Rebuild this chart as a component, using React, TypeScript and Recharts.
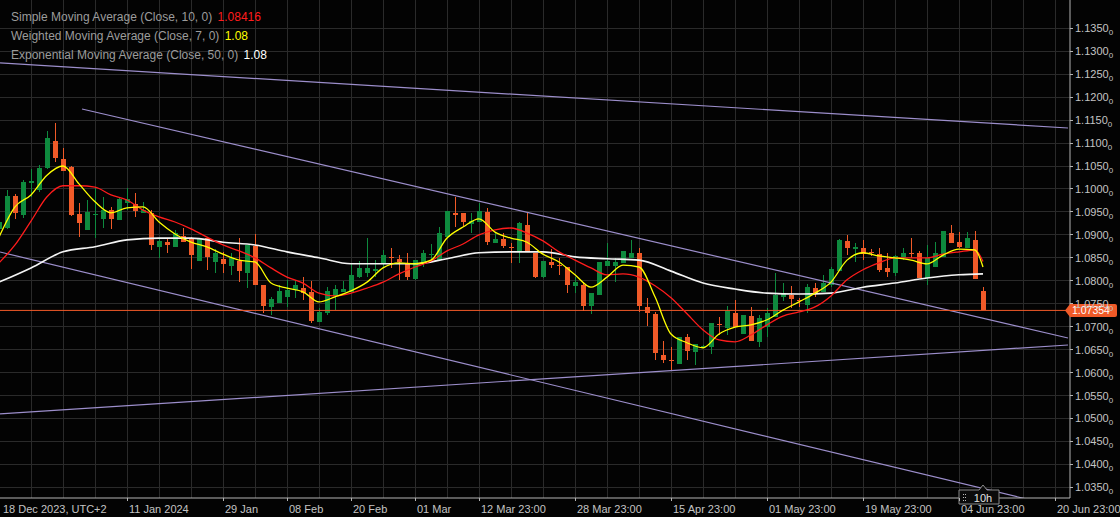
import React from "react"
import {
  ComposedChart,
  Bar,
  Line,
  XAxis,
  YAxis,
  CartesianGrid,
  ReferenceLine,
  ReferenceDot,
} from "recharts"

// colours of the terminal theme
const GREEN = "#0e8a3e"
const ORANGE = "#f05a28"
const GRID = "#2a2a2a"
const AXIS = "#b4b4b4"
const TEXT = "#c4c4c4"
const TREND = "#9c8ecb"
const FONT = '"Liberation Sans", Arial, sans-serif'

// daily candles, first bar (index -1) is cut by the left edge — [open, high, low, close]
const FIRST_BAR = -1
const ohlc: [number, number, number, number][] = [
  [1.0913, 1.0937, 1.0898, 1.0928],
  [1.0915, 1.0998, 1.0913, 1.0985],
  [1.0985, 1.0989, 1.0935, 1.0948],
  [1.0943, 1.102, 1.0937, 1.1015],
  [1.1013, 1.1044, 1.0983, 1.1017],
  [1.0998, 1.1052, 1.0993, 1.1046],
  [1.1046, 1.1126, 1.1044, 1.1111],
  [1.1105, 1.1144, 1.1059, 1.1068],
  [1.1065, 1.1089, 1.1039, 1.1039],
  [1.1048, 1.105, 1.0941, 1.0943],
  [1.0946, 1.097, 1.0895, 1.0926],
  [1.0911, 1.0976, 1.0911, 1.095],
  [1.0943, 1.1004, 1.0893, 1.0946],
  [1.0935, 1.0983, 1.0915, 1.0954],
  [1.0954, 1.0961, 1.0913, 1.0935],
  [1.0932, 1.0983, 1.0932, 1.0978],
  [1.097, 1.1002, 1.0954, 1.0978],
  [1.0967, 1.0991, 1.0939, 1.0952],
  [1.0948, 1.0972, 1.0948, 1.0954],
  [1.0948, 1.0954, 1.0867, 1.0878],
  [1.0874, 1.0893, 1.085, 1.0887],
  [1.0884, 1.0893, 1.0861, 1.0878],
  [1.0874, 1.0911, 1.0874, 1.0904],
  [1.0898, 1.0915, 1.0884, 1.0884],
  [1.0893, 1.0895, 1.0826, 1.0856],
  [1.0843, 1.0891, 1.0843, 1.0891],
  [1.0893, 1.0893, 1.0824, 1.0852],
  [1.0841, 1.0869, 1.0817, 1.0861],
  [1.0848, 1.0863, 1.0817, 1.0837],
  [1.0832, 1.0861, 1.0813, 1.085],
  [1.0843, 1.0893, 1.0797, 1.0821],
  [1.0817, 1.0878, 1.0784, 1.0878],
  [1.0876, 1.0902, 1.0791, 1.0791],
  [1.0791, 1.0791, 1.073, 1.0745],
  [1.0743, 1.0765, 1.0726, 1.076],
  [1.0752, 1.0791, 1.0752, 1.0778],
  [1.0765, 1.0802, 1.0743, 1.078],
  [1.078, 1.0802, 1.0763, 1.0791],
  [1.0784, 1.0808, 1.0758, 1.0773],
  [1.0776, 1.08, 1.0708, 1.0712],
  [1.071, 1.0741, 1.071, 1.0732],
  [1.073, 1.0786, 1.0726, 1.0778],
  [1.0767, 1.0791, 1.0736, 1.0782],
  [1.0776, 1.08, 1.0776, 1.0782],
  [1.0776, 1.0839, 1.0776, 1.0813],
  [1.0808, 1.0843, 1.0806, 1.0828],
  [1.0817, 1.0893, 1.0808, 1.0828],
  [1.0821, 1.0845, 1.0808, 1.0826],
  [1.0839, 1.0867, 1.083, 1.0856],
  [1.0852, 1.0871, 1.0828, 1.085],
  [1.0848, 1.0856, 1.0802, 1.0841],
  [1.0839, 1.0861, 1.0802, 1.0808],
  [1.0804, 1.0845, 1.0802, 1.0845],
  [1.0839, 1.0867, 1.083, 1.0861],
  [1.0856, 1.088, 1.0841, 1.0858],
  [1.0845, 1.0917, 1.0845, 1.0904],
  [1.0895, 1.0952, 1.0893, 1.0952],
  [1.0948, 1.0983, 1.0917, 1.0943],
  [1.0948, 1.0948, 1.0917, 1.0928],
  [1.0924, 1.0948, 1.0904, 1.093],
  [1.0928, 1.097, 1.0928, 1.0952],
  [1.095, 1.0959, 1.0878, 1.0884],
  [1.0882, 1.0904, 1.0882, 1.0891],
  [1.0891, 1.0904, 1.0871, 1.0876],
  [1.0874, 1.0882, 1.0839, 1.0871],
  [1.0863, 1.0928, 1.0839, 1.0926],
  [1.0922, 1.0948, 1.0863, 1.0863],
  [1.0861, 1.0861, 1.0806, 1.0808],
  [1.0808, 1.0843, 1.0806, 1.0843],
  [1.0841, 1.0869, 1.0828, 1.0834],
  [1.0834, 1.085, 1.0813, 1.0832],
  [1.083, 1.083, 1.0773, 1.0791],
  [1.0789, 1.0808, 1.0773, 1.0797],
  [1.0791, 1.0797, 1.0734, 1.0745],
  [1.0745, 1.0773, 1.0728, 1.0773],
  [1.0769, 1.0841, 1.0769, 1.0841],
  [1.0832, 1.0882, 1.0832, 1.0843],
  [1.0832, 1.085, 1.0797, 1.0841],
  [1.0839, 1.0865, 1.0839, 1.0865],
  [1.085, 1.0889, 1.085, 1.0861],
  [1.0861, 1.0871, 1.0732, 1.0745],
  [1.0743, 1.0763, 1.0702, 1.073],
  [1.0728, 1.0732, 1.0627, 1.0643],
  [1.0638, 1.0669, 1.0621, 1.0627],
  [1.0627, 1.0656, 1.0606, 1.0625],
  [1.0619, 1.0678, 1.0619, 1.0678],
  [1.0678, 1.0684, 1.0627, 1.0647],
  [1.0645, 1.0662, 1.0617, 1.0662],
  [1.0656, 1.066, 1.0654, 1.0658],
  [1.0656, 1.0708, 1.0641, 1.0708],
  [1.0706, 1.0721, 1.0682, 1.0704],
  [1.0697, 1.0745, 1.0682, 1.0734],
  [1.073, 1.0758, 1.0699, 1.0699],
  [1.0684, 1.0726, 1.0684, 1.0726],
  [1.0723, 1.0743, 1.0669, 1.0669],
  [1.0667, 1.0726, 1.0656, 1.0719],
  [1.0699, 1.0741, 1.0678, 1.073],
  [1.0721, 1.0817, 1.0721, 1.0769],
  [1.0765, 1.0795, 1.0756, 1.0773],
  [1.0769, 1.0789, 1.0741, 1.076],
  [1.0758, 1.0763, 1.0743, 1.0756],
  [1.0747, 1.0793, 1.073, 1.0786],
  [1.0784, 1.0795, 1.0765, 1.0773],
  [1.0776, 1.0813, 1.0776, 1.0795],
  [1.0791, 1.083, 1.0786, 1.0826],
  [1.0821, 1.0891, 1.0821, 1.0889],
  [1.0887, 1.09, 1.0856, 1.0871],
  [1.0869, 1.0882, 1.0841, 1.0874],
  [1.0871, 1.0889, 1.0845, 1.0858],
  [1.0863, 1.0869, 1.0854, 1.0861],
  [1.0858, 1.0871, 1.0819, 1.0824],
  [1.0828, 1.0861, 1.0808, 1.0819],
  [1.0817, 1.0856, 1.081, 1.0854],
  [1.085, 1.0871, 1.0845, 1.0861],
  [1.0861, 1.0893, 1.085, 1.0858],
  [1.0861, 1.0865, 1.0806, 1.0806],
  [1.0806, 1.0878, 1.0791, 1.085],
  [1.083, 1.0884, 1.083, 1.0861],
  [1.0852, 1.0908, 1.0852, 1.0908],
  [1.0904, 1.0922, 1.0882, 1.0882],
  [1.0884, 1.0906, 1.0871, 1.0874],
  [1.0871, 1.0906, 1.0871, 1.0893],
  [1.0889, 1.0908, 1.0804, 1.0804],
  [1.0778, 1.0786, 1.07354, 1.07354],
]

// moving averages — [bar index, value]
const smaPoints: [number, number][] = [
  [-1, 1.0839], [1, 1.0878], [3, 1.093], [5, 1.0983], [7, 1.1007], [9, 1.1007],
  [11, 1.1004], [13, 1.0987], [15, 1.0976], [17, 1.0954], [19, 1.0939], [21, 1.0928],
  [23, 1.0913], [25, 1.0895], [27, 1.0878], [29, 1.0865], [31, 1.085], [33, 1.0828],
  [35, 1.0808], [37, 1.0795], [39, 1.0773], [41, 1.0767], [43, 1.0773], [45, 1.0784],
  [47, 1.0797], [49, 1.0815], [51, 1.083], [53, 1.0843], [55, 1.0865], [57, 1.088],
  [59, 1.09], [61, 1.0911], [63, 1.0915], [65, 1.0904], [67, 1.0887], [69, 1.0863],
  [71, 1.0845], [73, 1.0828], [75, 1.0813], [77, 1.0815], [79, 1.0808], [81, 1.0789],
  [83, 1.0763], [85, 1.0728], [87, 1.0693], [89, 1.0671], [91, 1.0667], [93, 1.0682],
  [95, 1.0704], [97, 1.0723], [99, 1.0732], [101, 1.0743], [103, 1.0767], [105, 1.0802],
  [107, 1.0824], [109, 1.0839], [111, 1.085], [113, 1.085], [115, 1.085], [117, 1.0858],
  [119, 1.0863], [121, 1.0867], [122, 1.0842],
]

const wmaPoints: [number, number][] = [
  [-1, 1.0895], [1, 1.0961], [3, 1.0987], [5, 1.103], [7, 1.105], [9, 1.1011],
  [11, 1.0972], [13, 1.0948], [15, 1.0959], [17, 1.0961], [19, 1.0928], [21, 1.0902],
  [23, 1.0884], [25, 1.0874], [27, 1.0858], [29, 1.0845], [31, 1.0841], [33, 1.0795],
  [35, 1.0784], [37, 1.0776], [39, 1.0754], [41, 1.0765], [43, 1.0778], [45, 1.0797],
  [47, 1.0828], [49, 1.0839], [51, 1.0837], [53, 1.0845], [55, 1.0893], [57, 1.0917],
  [59, 1.0935], [61, 1.0906], [63, 1.0893], [65, 1.0884], [67, 1.0858], [69, 1.0841],
  [71, 1.0813], [73, 1.0786], [75, 1.0808], [77, 1.0834], [79, 1.083], [81, 1.0765],
  [83, 1.0684], [85, 1.0665], [87, 1.0654], [89, 1.0684], [91, 1.0699], [93, 1.0704],
  [95, 1.0715], [97, 1.0736], [99, 1.0754], [101, 1.0773], [103, 1.0797], [105, 1.0845],
  [107, 1.0861], [109, 1.0854], [111, 1.085], [113, 1.0845], [115, 1.0837], [117, 1.0856],
  [119, 1.0869], [121, 1.0867], [122, 1.083],
]

const emaPoints: [number, number][] = [
  [-1, 1.0797], [3, 1.0828], [7, 1.0863], [11, 1.0874], [15, 1.0889], [19, 1.0893],
  [23, 1.0893], [27, 1.0884], [31, 1.0878], [35, 1.0863], [39, 1.085], [43, 1.0837],
  [47, 1.0837], [51, 1.0837], [55, 1.0848], [59, 1.0861], [63, 1.0863], [67, 1.0863],
  [71, 1.0852], [75, 1.0848], [79, 1.0845], [83, 1.0821], [87, 1.0795], [91, 1.0782],
  [95, 1.0773], [99, 1.0771], [103, 1.0773], [107, 1.0786], [111, 1.0795], [115, 1.0806],
  [119, 1.0813], [122, 1.0815],
]

const legendItems = [
  { label: "Simple Moving Average (Close, 10, 0)", value: "1.08416", color: "#ff1c1c" },
  { label: "Weighted Moving Average (Close, 7, 0)", value: "1.08", color: "#ffff00" },
  { label: "Exponential Moving Average (Close, 50, 0)", value: "1.08", color: "#ffffff" },
]

const lastPrice = 1.07354
const timerText = "10h"

// trend lines drawn on the chart — [[bar, price], [bar, price]]
const trendLines: [number, number][][] = [
  [[-0.875, 1.12745], [132.625, 1.11328]],
  [[9.375, 1.11742], [132.625, 1.06753]],
  [[-0.875, 1.08627], [132.625, 1.03027]],
  [[-0.875, 1.05098], [132.625, 1.06601]],
]

const yDomain: [number, number] = [1.03267, 1.14117]
const xDomain: [number, number] = [-0.875, 132.875]
const yTicks = [
  1.035, 1.04, 1.045, 1.05, 1.055, 1.06, 1.065, 1.07, 1.075, 1.08, 1.085,
  1.09, 1.095, 1.1, 1.105, 1.11, 1.115, 1.12, 1.125, 1.13, 1.135,
]
const xTickBars = [-0.875, 15, 27, 35, 43, 51, 59, 71, 83, 95, 107, 119, 131]
const xTickLabels = [
  "18 Dec 2023, UTC+2", "11 Jan 2024", "29 Jan", "08 Feb", "20 Feb", "01 Mar",
  "12 Mar 23:00", "28 Mar 23:00", "15 Apr 23:00", "01 May 23:00", "19 May 23:00",
  "04 Jun 23:00", "20 Jun 23:00",
]
const gridBars = [
  3, 7, 11, 15, 19, 23, 27, 31, 35, 39, 43, 47, 51, 55, 59, 63, 67, 71, 75, 79, 83,
  87, 91, 95, 99, 103, 107, 111, 115, 119, 123, 127, 131,
]

type Row = {
  i: number
  o: number
  h: number
  l: number
  c: number
  range: [number, number]
  sma?: number | null
  wma?: number | null
  ema?: number | null
}

const rows: Row[] = ohlc.map(([o, h, l, c], k) => ({
  i: FIRST_BAR + k, o, h, l, c, range: [l, h], sma: null, wma: null, ema: null,
}))
smaPoints.forEach(([i, v]) => { rows[i - FIRST_BAR].sma = v })
wmaPoints.forEach(([i, v]) => { rows[i - FIRST_BAR].wma = v })
emaPoints.forEach(([i, v]) => { rows[i - FIRST_BAR].ema = v })

// wick + body from the [low, high] bar that recharts lays out
function Candle(props: any) {
  const { x, y, width, height, payload } = props
  if (!payload || x == null) return null
  const { o, h, l, c } = payload as Row
  const top = Math.min(y, y + height)
  const span = Math.abs(height)
  const toY = (v: number) => (h === l ? top : top + ((h - v) / (h - l)) * span)
  const cx = Math.round(x + width / 2)
  const color = c >= o ? GREEN : ORANGE
  const bTop = toY(Math.max(o, c))
  const bBot = toY(Math.min(o, c))
  return (
    <g shapeRendering="crispEdges">
      <rect x={cx} y={top} width={1} height={Math.max(span, 1)} fill={color} />
      <rect x={cx - 2} y={bTop} width={5} height={Math.max(bBot - bTop, 1)} fill={color} />
    </g>
  )
}

function XTick({ x, y, payload }: any) {
  const idx = xTickBars.indexOf(payload.value)
  return (
    <g>
      {idx > 0 && (
        <line x1={x} x2={x} y1={y} y2={y + 3} stroke={AXIS} shapeRendering="crispEdges" />
      )}
      <text x={idx > 0 ? x + 2 : x + 3} y={y + 15} fill={TEXT} fontSize={11} fontFamily={FONT}>
        {xTickLabels[idx]}
      </text>
    </g>
  )
}

function YTick({ x, y, payload }: any) {
  return (
    <g>
      <line x1={x} x2={x + 3} y1={y} y2={y} stroke={AXIS} shapeRendering="crispEdges" />
      <text x={x + 5} y={y + 4} fill={TEXT} fontSize={11} fontFamily={FONT}>
        {Number(payload.value).toFixed(4)}
        <tspan fontSize={8} dy={3}>0</tspan>
      </text>
    </g>
  )
}

// orange tag with the last price, drawn over the right axis
function PriceTag({ cx, cy }: any) {
  if (cx == null) return null
  const xr = cx
  const yy = cy
  const d = `M${xr - 5},${yy} L${xr},${yy - 6.5} H${xr + 45} Q${xr + 47},${yy - 6.5} ${xr + 47},${yy - 4.5} V${yy + 4.5} Q${xr + 47},${yy + 6.5} ${xr + 45},${yy + 6.5} H${xr} Z`
  return (
    <g>
      <path d={d} fill={ORANGE} />
      <text x={xr + 2} y={yy + 4} fill="#ffffff" fontSize={10.5} fontFamily={FONT}>
        {lastPrice.toFixed(5)}
      </text>
    </g>
  )
}

// little "time left" box sitting on the time axis under the last bar
function TimerTag({ cx, cy }: any) {
  if (cx == null) return null
  const x0 = cx - 24
  const x1 = cx + 16
  const d = `M${x0},${cy - 8} H${cx - 4} L${cx},${cy - 13} L${cx + 4},${cy - 8} H${x1} V${cy + 6} H${x0} Z`
  const dots = [-4, -1, 2].flatMap((dy) => [[cx - 20, cy + dy], [cx - 18, cy + dy]])
  return (
    <g>
      <path d={d} fill="#0b0b0b" stroke="#8a8a8a" strokeWidth={1} />
      {dots.map(([dx, dy], k) => (
        <rect key={k} x={dx} y={dy} width={1} height={1} fill="#bdbdbd" />
      ))}
      <text x={cx} y={cy + 3.5} fill="#e2e2e2" fontSize={11} fontFamily={FONT} textAnchor="middle">
        {timerText}
      </text>
    </g>
  )
}

export default function App() {
  const lastBar = FIRST_BAR + ohlc.length - 1
  return (
    <div
      style={{
        position: "absolute",
        left: 0,
        top: 0,
        width: 1120,
        height: 517,
        background: "#030303",
        overflow: "hidden",
      }}
    >
      <ComposedChart
        width={1120}
        height={517}
        data={rows}
        margin={{ top: 0, right: 0, bottom: 0, left: 0 }}
      >
        <CartesianGrid
          stroke={GRID}
          horizontalValues={yTicks}
          verticalValues={gridBars}
          shapeRendering="crispEdges"
        />
        <XAxis
          dataKey="i"
          type="number"
          domain={xDomain}
          allowDataOverflow
          ticks={xTickBars}
          interval={0}
          tick={XTick}
          tickLine={false}
          tickSize={0}
          tickMargin={0}
          axisLine={{ stroke: AXIS }}
          height={19}
        />
        <YAxis
          orientation="right"
          type="number"
          domain={yDomain}
          allowDataOverflow
          ticks={yTicks}
          interval={0}
          tick={YTick}
          tickLine={false}
          tickSize={0}
          tickMargin={0}
          axisLine={{ stroke: AXIS }}
          width={50}
        />
        {trendLines.map((seg, k) => (
          <ReferenceLine
            key={k}
            segment={seg.map(([x, y]) => ({ x, y }))}
            stroke={TREND}
            strokeWidth={1.2}
            ifOverflow="hidden"
          />
        ))}
        <ReferenceLine y={lastPrice} stroke={ORANGE} strokeWidth={1} />
        <Bar dataKey="range" barSize={5} shape={<Candle />} isAnimationActive={false} />
        <Line
          dataKey="ema"
          type="monotone"
          stroke="#f4f4f4"
          strokeWidth={1.6}
          dot={false}
          connectNulls
          isAnimationActive={false}
        />
        <Line
          dataKey="sma"
          type="monotone"
          stroke="#ff1c1c"
          strokeWidth={1.3}
          dot={false}
          connectNulls
          isAnimationActive={false}
        />
        <Line
          dataKey="wma"
          type="monotone"
          stroke="#ffff00"
          strokeWidth={1.3}
          dot={false}
          connectNulls
          isAnimationActive={false}
        />
        <ReferenceDot
          x={lastBar}
          y={yDomain[0]}
          ifOverflow="visible"
          shape={(p: any) => <TimerTag cx={p.cx} cy={p.cy} />}
        />
        <ReferenceDot
          x={xDomain[1]}
          y={lastPrice}
          ifOverflow="visible"
          shape={(p: any) => <PriceTag cx={p.cx} cy={p.cy} />}
        />
      </ComposedChart>

      {legendItems.map((item, k) => (
        <div
          key={item.label}
          style={{
            position: "absolute",
            left: 11,
            top: 10 + k * 19,
            fontFamily: FONT,
            fontSize: 12,
            lineHeight: "14px",
            color: "#9c9c9c",
            whiteSpace: "pre",
          }}
        >
          {item.label} <span style={{ color: item.color, marginLeft: 2 }}>{item.value}</span>
        </div>
      ))}
    </div>
  )
}
